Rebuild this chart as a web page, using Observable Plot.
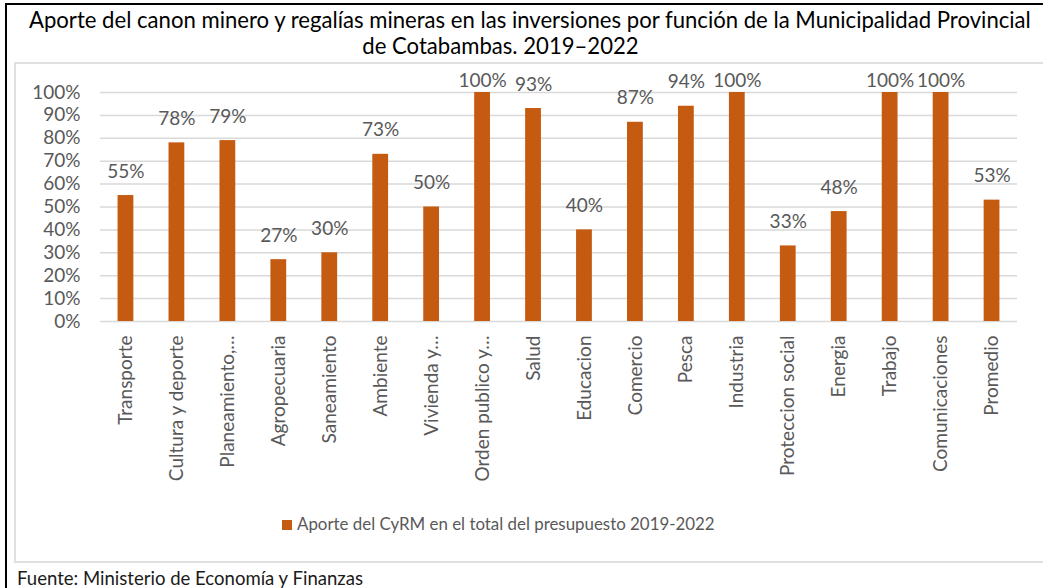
<!DOCTYPE html>
<html><head><meta charset="utf-8">
<script src="https://cdn.jsdelivr.net/npm/d3@7"></script>
<script src="https://cdn.jsdelivr.net/npm/@observablehq/plot@0.6"></script>
<style>
html,body{margin:0;padding:0;background:#fff;}
#root{position:relative;width:1043px;height:588px;overflow:hidden;font-family:Lato,sans-serif;}
.abs{position:absolute;white-space:nowrap;line-height:1;}
</style></head><body><div id="root">
<div class="abs" style="left:5px;top:3px;width:1050px;height:620px;border-left:2px solid #000;border-top:2px solid #000;"></div>
<div class="abs" style="left:14px;top:62px;width:1050px;height:497px;border:2px solid #e0e0e0;"></div>
<span id="t1" class="abs" style="color:#000"></span>
<span id="t2" class="abs" style="color:#000"></span>
<div id="chart" class="abs" style="left:14px;top:63px;"></div>
<div id="sw" class="abs" style="left:282px;top:520px;width:10px;height:10px;"></div>
<span id="leg" class="abs" style="color:#595959"></span>
<span id="src" class="abs" style="color:#1a1a1a"></span>
</div>
<script>
const titleLines = ["Aporte del canon minero y regalías mineras en las inversiones por función de la Municipalidad Provincial", "de Cotabambas. 2019–2022"];
const categories = ["Transporte","Cultura y deporte","Planeamiento,…","Agropecuaria","Saneamiento","Ambiente","Vivienda y…","Orden publico y…","Salud","Educacion","Comercio","Pesca","Industria","Proteccion social","Energia","Trabajo","Comunicaciones","Promedio"];
const values = [55,78,79,27,30,73,50,100,93,40,87,94,100,33,48,100,100,53];
const valueLabels = ["55%","78%","79%","27%","30%","73%","50%","100%","93%","40%","87%","94%","100%","33%","48%","100%","100%","53%"];
const yTicks = [0,10,20,30,40,50,60,70,80,90,100];
const yTickLabels = ["0%","10%","20%","30%","40%","50%","60%","70%","80%","90%","100%"];
const seriesName = "Aporte del CyRM en el total del presupuesto 2019-2022";
const sourceText = "Fuente: Ministerio de Economía y Finanzas";
const barColor = "#C55A11";

const data = categories.map((c,i)=>({cat:c, val:values[i], label:valueLabels[i]}));

function fit(el, text, left, right, baseline){
  el.textContent = text;
  el.style.fontSize = "20px";
  const w = el.getBoundingClientRect().width;
  const fs = 20*(right-left)/w;
  el.style.fontSize = fs+"px";
  el.style.left = left+"px";
  el.style.top = (baseline - 0.887*fs)+"px";
  return fs;
}
const t1 = document.getElementById("t1");
const fsT = fit(t1, titleLines[0], 29, 1031, 29);
const t2 = document.getElementById("t2");
t2.textContent = titleLines[1];
t2.style.fontSize = fsT+"px";
const w2 = t2.getBoundingClientRect().width;
t2.style.left = (500.5 - w2/2)+"px";
t2.style.top = (55 - 0.887*fsT)+"px";
fit(document.getElementById("leg"), seriesName, 297, 715, 531);
fit(document.getElementById("src"), sourceText, 17, 363, 585);
document.getElementById("sw").style.background = barColor;

const fs = 19;
const chart = Plot.plot({
  width: 1029, height: 440,
  marginLeft: 86, marginRight: 26, marginTop: 29, marginBottom: 182,
  style: {fontFamily: "Lato, sans-serif", fontSize: fs+"px", color: "#595959", background: "transparent", overflow: "visible"},
  x: {type: "band", domain: categories, paddingInner: 0.69, paddingOuter: 0.345, round: false, label: null},
  y: {domain: [0,100], label: null},
  marks: [
    Plot.gridY(yTicks, {stroke: "#d9d9d9", strokeOpacity: 1, strokeWidth: 1.5}),
    Plot.barY(data, {x: "cat", y: "val", fill: barColor}),
    Plot.text(data.filter(d=>d.val<100), {x: "cat", y: "val", text: "label", dy: -24, fill: "#595959", fontSize: fs}),
    Plot.text(data.filter(d=>d.val>=100), {x: "cat", y: "val", text: "label", dy: -12, fill: "#595959", fontSize: fs}),
    Plot.axisY(yTicks, {tickFormat: (d)=>yTickLabels[yTicks.indexOf(d)], tickSize: 0, tickPadding: 20, label: null, fontSize: fs}),
    Plot.axisX({tickRotate: -90, tickSize: 0, tickPadding: 14, label: null, fontSize: fs})
  ]
});
document.getElementById("chart").appendChild(chart);
</script>
</body></html>
